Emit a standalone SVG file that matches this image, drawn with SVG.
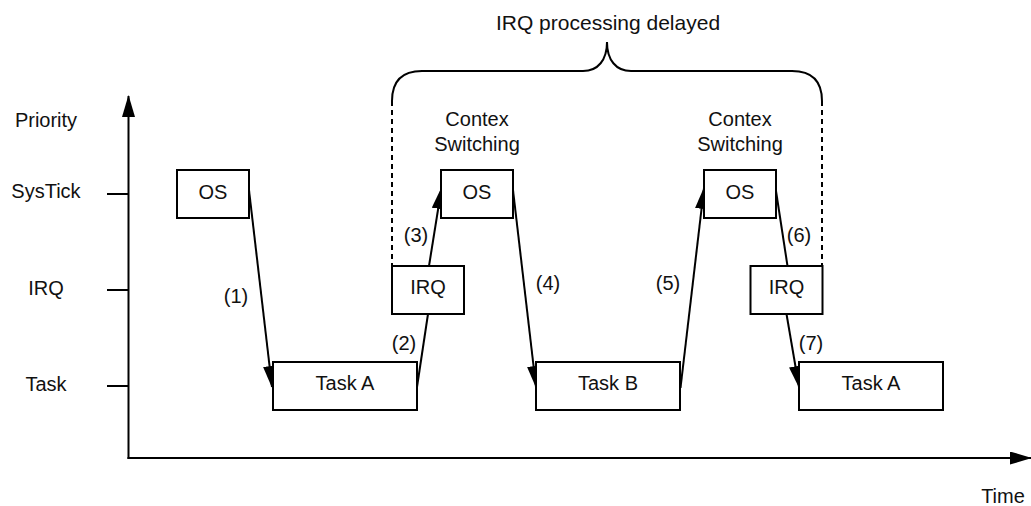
<svg xmlns="http://www.w3.org/2000/svg" width="1031" height="506" viewBox="0 0 1031 506">
  <style>
    text { font-family: "Liberation Sans", Arial, sans-serif; font-size: 20px; fill: #111111; }
    .mid { text-anchor: middle; }
    .box { fill: #ffffff; stroke: #000000; stroke-width: 2; }
    .wire { fill: none; stroke: #000000; stroke-width: 2; }
    .dash { fill: none; stroke: #000000; stroke-width: 2; stroke-dasharray: 5 4; }
  </style>
  <defs>
    <marker id="head" markerUnits="userSpaceOnUse" markerWidth="24" markerHeight="14" refX="21" refY="6.5" orient="auto">
      <path d="M0,0 L22,6.5 L0,13 z" fill="#000000"/>
    </marker>
  </defs>
  <rect width="1031" height="506" fill="#ffffff"/>

  <!-- axes and priority ticks -->
  <g id="axes">
    <line class="wire" x1="128.5" y1="459" x2="128.5" y2="96" marker-end="url(#head)"/>
    <line class="wire" x1="127.5" y1="458" x2="1031" y2="458" marker-end="url(#head)"/>
    <line class="wire" x1="107" y1="194" x2="128" y2="194"/>
    <line class="wire" x1="107" y1="290" x2="128" y2="290"/>
    <line class="wire" x1="107" y1="386" x2="128" y2="386"/>
    <text class="mid" x="46" y="127">Priority</text>
    <text class="mid" x="46" y="198">SysTick</text>
    <text class="mid" x="46" y="295">IRQ</text>
    <text class="mid" x="46" y="391">Task</text>
    <text class="mid" x="1003" y="503">Time</text>
  </g>

  <!-- delayed-IRQ bracket -->
  <g id="bracket">
    <path class="wire" d="M392,101 Q392,71 422,71 L583,71 C598,71 607,60 607,42 C607,60 616,71 631,71 L792,71 Q822,71 822,101"/>
    <line class="dash" x1="392" y1="101" x2="392" y2="266"/>
    <line class="dash" x1="822" y1="101" x2="822" y2="266"/>
    <text class="mid" x="608" y="30" style="font-size:21px">IRQ processing delayed</text>
    <text class="mid" x="477" y="126">Contex</text>
    <text class="mid" x="477" y="151">Switching</text>
    <text class="mid" x="740" y="126">Contex</text>
    <text class="mid" x="740" y="151">Switching</text>
  </g>

  <!-- transitions -->
  <g id="connectors">
    <line class="wire" x1="249" y1="190" x2="272" y2="387" marker-end="url(#head)"/>
    <line class="wire" x1="417" y1="387" x2="428" y2="314"/>
    <line class="wire" x1="429" y1="266" x2="441.5" y2="188" marker-end="url(#head)"/>
    <line class="wire" x1="513" y1="190" x2="536" y2="387" marker-end="url(#head)"/>
    <line class="wire" x1="680.5" y1="388" x2="704" y2="188" marker-end="url(#head)"/>
    <line class="wire" x1="776" y1="191" x2="787.5" y2="266"/>
    <line class="wire" x1="786.5" y1="314" x2="799" y2="387" marker-end="url(#head)"/>
    <text class="mid" x="236" y="303">(1)</text>
    <text class="mid" x="404" y="350">(2)</text>
    <text class="mid" x="416" y="242">(3)</text>
    <text class="mid" x="548" y="290">(4)</text>
    <text class="mid" x="668" y="290">(5)</text>
    <text class="mid" x="799" y="242">(6)</text>
    <text class="mid" x="811" y="350">(7)</text>
  </g>

  <g id="os-1">
    <rect class="box" x="177" y="170" width="72" height="48"/>
    <text class="mid" x="213" y="198.5">OS</text>
  </g>
  <g id="task-a-1">
    <rect class="box" x="273" y="362" width="144" height="48"/>
    <text class="mid" x="345" y="390">Task A</text>
  </g>
  <g id="irq-1">
    <rect class="box" x="392" y="266" width="72" height="48"/>
    <text class="mid" x="428" y="294">IRQ</text>
  </g>
  <g id="os-2">
    <rect class="box" x="441" y="170" width="72" height="48"/>
    <text class="mid" x="477" y="198.5">OS</text>
  </g>
  <g id="task-b">
    <rect class="box" x="536" y="362" width="144" height="48"/>
    <text class="mid" x="608" y="390">Task B</text>
  </g>
  <g id="os-3">
    <rect class="box" x="704" y="170" width="72" height="48"/>
    <text class="mid" x="740" y="198.5">OS</text>
  </g>
  <g id="irq-2">
    <rect class="box" x="750.5" y="266" width="72" height="48"/>
    <text class="mid" x="786.5" y="294">IRQ</text>
  </g>
  <g id="task-a-2">
    <rect class="box" x="799" y="362" width="144" height="48"/>
    <text class="mid" x="871" y="390">Task A</text>
  </g>
</svg>
